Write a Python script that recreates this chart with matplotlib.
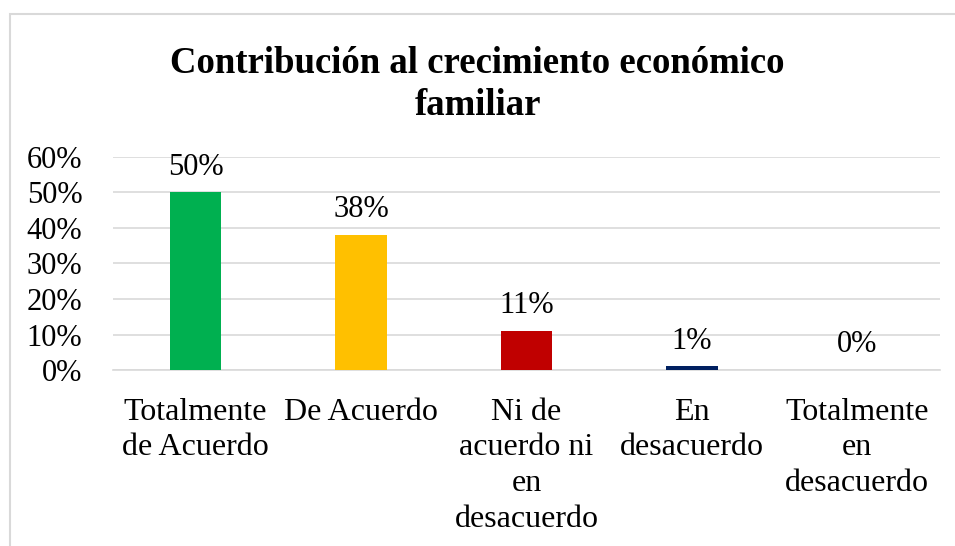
import matplotlib.pyplot as plt
from matplotlib.patches import Rectangle
from matplotlib.ticker import PercentFormatter

plt.rcParams["font.family"] = ["Liberation Serif", "DejaVu Serif"]

# ── Data ──────────────────────────────────────────────────────────────────────
categories = ["Totalmente\nde Acuerdo", "De Acuerdo", "Ni de\nacuerdo ni\nen\ndesacuerdo",
              "En\ndesacuerdo", "Totalmente\nen\ndesacuerdo"]
values = [0.50, 0.38, 0.11, 0.01, 0.00]
labels = ["50%", "38%", "11%", "1%", "0%"]
colors = ["#00B050", "#FFC000", "#C00000", "#002060", "#4472C4"]
yticks = [0, 0.1, 0.2, 0.3, 0.4, 0.5, 0.6]

fig = plt.figure(figsize=(9.55, 5.46), dpi=100)
ax = fig.add_axes([0.1183, 0.3223, 0.866, 0.3902])

# chart frame
fig.patches.append(Rectangle((10 / 955, -0.05), 1.2, 1.05 - 14 / 546,
                             transform=fig.transFigure, fill=False,
                             edgecolor="#d9d9d9", linewidth=1.5))

x = range(len(values))
ax.bar(x, values, width=0.31, color=colors, zorder=3)
for xi, v, lab in zip(x, values, labels):
    ax.text(xi, v + 0.03, lab, ha="center", va="bottom", fontsize=22)

ax.set_xlim(-0.5, len(values) - 0.5)
ax.set_ylim(0, 0.6)
ax.set_yticks(yticks)
ax.yaxis.set_major_formatter(PercentFormatter(1.0, decimals=0))
ax.set_xticks(list(x))
ax.set_xticklabels(categories, fontsize=23, va="top", linespacing=1.3)
ax.tick_params(axis="y", labelsize=22, length=0, pad=22)
ax.tick_params(axis="x", length=0, pad=20)
ax.grid(axis="y", color="#d9d9d9", linewidth=1.2, zorder=0)
for s in ["top", "right", "left"]:
    ax.spines[s].set_visible(False)
ax.spines["bottom"].set_color("#d9d9d9")
ax.spines["bottom"].set_linewidth(1.2)

fig.text(0.5, 0.846, "Contribución al crecimiento económico\nfamiliar", ha="center",
         va="center", fontsize=26.5, fontweight="bold", linespacing=1.26)

fig.savefig("out.png", dpi=100)
